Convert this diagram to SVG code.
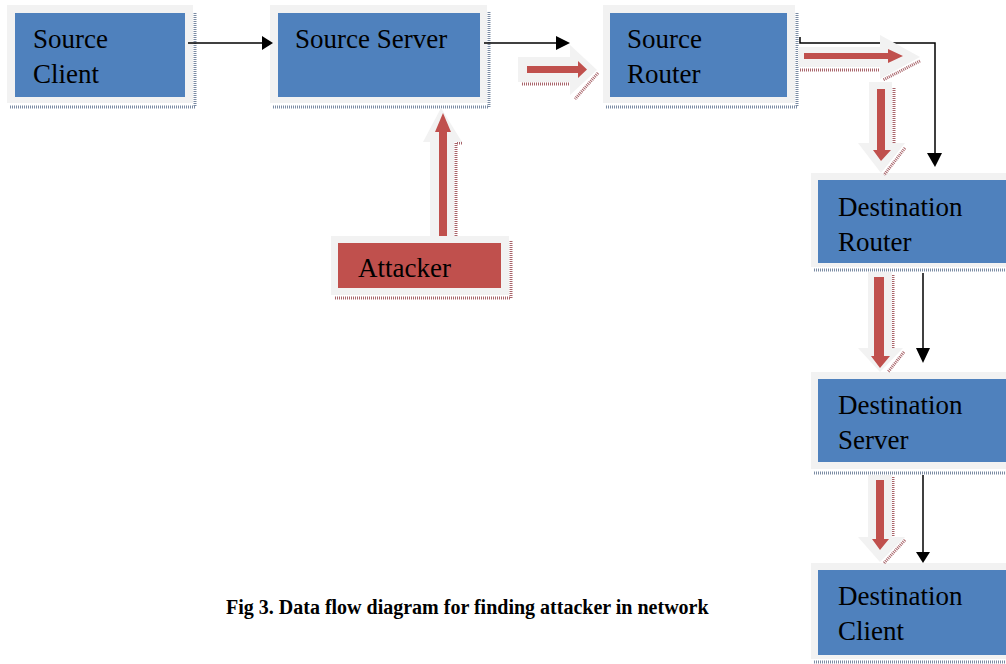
<svg xmlns="http://www.w3.org/2000/svg" width="1006" height="664" viewBox="0 0 1006 664">
<style>
.frame{fill:#f2f2f2}
.blue{fill:#4f81bd}
.red{fill:#c0504d}
.shb{stroke:#7b8ba3;stroke-width:3;stroke-dasharray:1 1;fill:none}
.shr{stroke:#a8646a;stroke-width:3;stroke-dasharray:1 1;fill:none}
.lbl{font-family:"Liberation Serif","Times New Roman",serif;font-size:27px;fill:#000}
.ln{stroke:#000;stroke-width:1.5;fill:none}
.hd{fill:#000}
.cap{font-family:"Liberation Serif","Times New Roman",serif;font-size:20px;font-weight:bold;fill:#000}
</style>
<rect width="1006" height="664" fill="#fff"/>

<g id="source-client">
<path class="shb" d="M10 107H195V12"/>
<rect class="frame" x="7" y="5" width="186" height="98"/>
<rect class="blue" x="15" y="13" width="170" height="84"/>
<text class="lbl" x="33" y="48">Source</text>
<text class="lbl" x="33" y="83">Client</text>
</g>

<g id="source-server">
<path class="shb" d="M273 107H489V12"/>
<rect class="frame" x="270" y="5" width="217" height="98"/>
<rect class="blue" x="278" y="13" width="202" height="84"/>
<text class="lbl" x="295" y="48">Source Server</text>
</g>

<g id="source-router">
<path class="shb" d="M606 107H797V12"/>
<rect class="frame" x="603" y="5" width="192" height="98"/>
<rect class="blue" x="610" y="13" width="177" height="84"/>
<text class="lbl" x="627" y="48">Source</text>
<text class="lbl" x="627" y="83">Router</text>
</g>

<g id="destination-router">
<path class="shb" d="M814 270H1006"/>
<rect class="frame" x="811" y="173" width="195" height="94"/>
<rect class="blue" x="818" y="180" width="188" height="83"/>
<text class="lbl" x="838" y="216">Destination</text>
<text class="lbl" x="838" y="251">Router</text>
</g>

<g id="destination-server">
<path class="shb" d="M814 473H1006"/>
<rect class="frame" x="811" y="372" width="195" height="97"/>
<rect class="blue" x="818" y="379" width="188" height="83"/>
<text class="lbl" x="838" y="414">Destination</text>
<text class="lbl" x="838" y="449">Server</text>
</g>

<g id="destination-client">
<path class="shb" d="M814 662H1006"/>
<rect class="frame" x="811" y="563" width="195" height="96"/>
<rect class="blue" x="818" y="570" width="188" height="85"/>
<text class="lbl" x="838" y="605">Destination</text>
<text class="lbl" x="838" y="640">Client</text>
</g>

<g id="attacker">
<path class="shr" d="M335 298H511V240"/>
<rect class="frame" x="331" y="236" width="178" height="59"/>
<rect class="red" x="338" y="243" width="163" height="45"/>
<text class="lbl" x="358" y="277">Attacker</text>
</g>

<g id="connectors">
<path class="ln" d="M188 43H263"/>
<polygon class="hd" points="262,36 273,43 262,50"/>
<path class="ln" d="M484 43H557"/>
<polygon class="hd" points="556,36 570,43 556,50"/>
<path class="ln" d="M800 37V43H935V154"/>
<polygon class="hd" points="927,153 942,153 935,167"/>
<path class="ln" d="M923 273V349"/>
<polygon class="hd" points="916,348 930,348 923,363"/>
<path class="ln" d="M923 475V553"/>
<polygon class="hd" points="916,552 930,552 923,563"/>

<path class="shr" d="M456 236V143H463"/>
<polygon class="frame" points="430,236 430,142 423,142 441,108 462,142 454,142 454,236"/>
<polygon class="red" points="439,236 439,132 435,132 443,113 451,132 447,132 447,236"/>

<path class="shr" d="M522 84H570M598 73L575 99"/>
<polygon class="frame" points="518,57 570,57 570,45 597,70 570,95 570,82 518,82"/>
<polygon class="red" points="527,66 578,66 578,61 587,69.5 578,78 578,73 527,73"/>

<path class="shr" d="M800 70H880M920 61L883 80"/>
<polygon class="frame" points="798,47 880,47 880,35 920,57 880,79 880,67 798,67"/>
<polygon class="red" points="804,53 888,53 888,49 903,56 888,63 888,59 804,59"/>

<path class="shr" d="M894 88V143M905 148L884 175"/>
<polygon class="frame" points="869,82 892,82 892,143 905,143 881,173 858,143 869,143"/>
<polygon class="red" points="877,89 885,89 885,150 891,150 881,161 873,150 877,150"/>

<path class="shr" d="M893 275V348M904 352L888 372"/>
<polygon class="frame" points="868,272 892,272 892,348 903,348 880,372 858,348 868,348"/>
<polygon class="red" points="874,277 884,277 884,356 890,356 880,368 871,356 874,356"/>

<path class="shr" d="M893 477V537M905 540L884 563"/>
<polygon class="frame" points="868,475 892,475 892,537 905,537 880,562 858,537 868,537"/>
<polygon class="red" points="876,480 884,480 884,539 889,539 880,550 872,539 876,539"/>
</g>

<text class="cap" x="226" y="614">Fig 3. Data flow diagram for finding attacker in network</text>
</svg>
